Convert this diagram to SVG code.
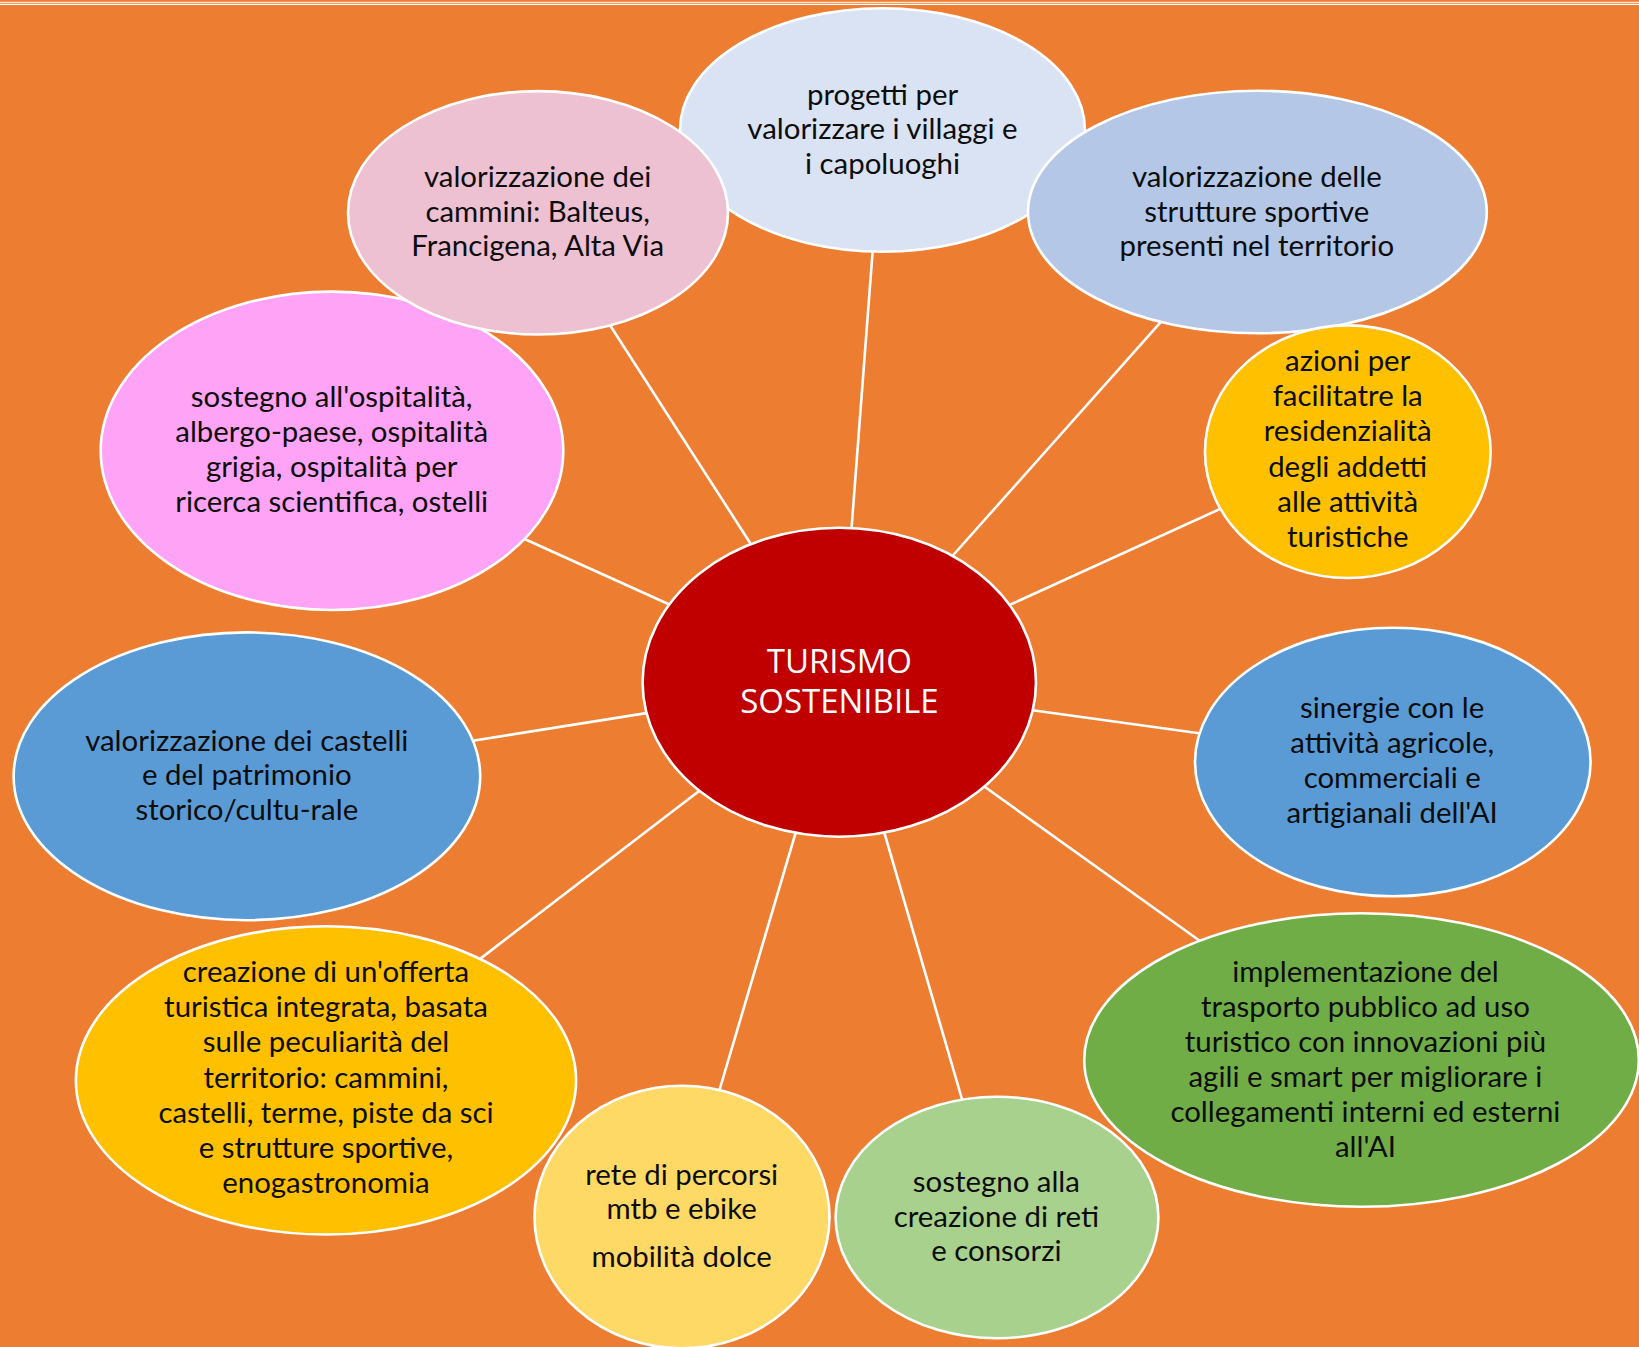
<svg xmlns="http://www.w3.org/2000/svg" width="1639" height="1347" viewBox="0 0 1639 1347">
<style>
.node{stroke:#FFFFFF;stroke-width:2.6}
.lbl{font-family:Lato,"Liberation Sans",sans-serif;font-size:29.4px;fill:#0D0D0D;text-anchor:middle}
.ctr{font-family:"Open Sans","Liberation Sans",sans-serif;font-size:33px;fill:#FFFFFF;text-anchor:middle}
#connectors line{stroke:#FFFFFF;stroke-width:2.6}
</style>
<rect x="0" y="0" width="1639" height="1347" fill="#ED7D31"/>
<line x1="0" y1="2.4" x2="1639" y2="2.4" stroke="#FBE5D6" stroke-width="1.3"/>
<line x1="0" y1="4.4" x2="1639" y2="4.4" stroke="#FFFFFF" stroke-width="1.3"/>
<g id="connectors">
<line x1="851.2" y1="532.7" x2="873" y2="246.5"/>
<line x1="753.2" y1="547.7" x2="607.3" y2="321"/>
<line x1="949.3" y1="559.5" x2="1163.6" y2="318.8"/>
<line x1="1006.2" y1="606.5" x2="1225.5" y2="506.5"/>
<line x1="1029" y1="709.7" x2="1202.6" y2="733.8"/>
<line x1="981.8" y1="784.8" x2="1202.5" y2="942.8"/>
<line x1="883.3" y1="829.2" x2="963.7" y2="1105"/>
<line x1="796.7" y1="829.2" x2="718.3" y2="1094"/>
<line x1="703" y1="788" x2="477.8" y2="960.6"/>
<line x1="651" y1="712.4" x2="468" y2="741.5"/>
<line x1="673.8" y1="606.5" x2="519.5" y2="536.8"/>
</g>
<g id="n-progetti">
<ellipse class="node" cx="882.5" cy="130" rx="202.5" ry="121.7" fill="#DAE3F3"/>
<text class="lbl" x="882.5" y="104.5">progetti per</text>
<text class="lbl" x="882.5" y="139">valorizzare i villaggi e</text>
<text class="lbl" x="882.5" y="173.5">i capoluoghi</text>
</g>
<g id="n-ospitalita">
<ellipse class="node" cx="332" cy="450.8" rx="231.3" ry="159.2" fill="#FFA3F7"/>
<text class="lbl" x="331.7" y="406.7">sostegno all'ospitalità,</text>
<text class="lbl" x="331.7" y="441.7">albergo-paese, ospitalità</text>
<text class="lbl" x="331.7" y="476.7">grigia, ospitalità per</text>
<text class="lbl" x="331.7" y="511.7">ricerca scientifica, ostelli</text>
</g>
<g id="n-cammini">
<ellipse class="node" cx="538" cy="212.8" rx="190" ry="121.7" fill="#EDC1D2"/>
<text class="lbl" x="537.7" y="187">valorizzazione dei</text>
<text class="lbl" x="537.7" y="221.5">cammini: Balteus,</text>
<text class="lbl" x="537.7" y="256">Francigena, Alta Via</text>
</g>
<g id="n-strutture">
<ellipse class="node" cx="1257.4" cy="212" rx="229.4" ry="121.3" fill="#B4C7E7"/>
<text class="lbl" x="1256.8" y="187">valorizzazione delle</text>
<text class="lbl" x="1256.8" y="221.5">strutture sportive</text>
<text class="lbl" x="1256.8" y="256">presenti nel territorio</text>
</g>
<g id="n-azioni">
<ellipse class="node" cx="1347.8" cy="451.7" rx="142.8" ry="126.3" fill="#FFC000"/>
<text class="lbl" x="1347.7" y="371">azioni per</text>
<text class="lbl" x="1347.7" y="406">facilitatre la</text>
<text class="lbl" x="1347.7" y="441">residenzialità</text>
<text class="lbl" x="1347.7" y="476.5">degli addetti</text>
<text class="lbl" x="1347.7" y="511.5">alle attività</text>
<text class="lbl" x="1347.7" y="546.5">turistiche</text>
</g>
<g id="n-center">
<ellipse class="node" cx="839.3" cy="682.2" rx="196.7" ry="154.5" fill="#C00000"/>
<text class="ctr" x="839.4" y="673.3">TURISMO<tspan x="839.4" y="713.3">SOSTENIBILE</tspan></text>
</g>
<g id="n-castelli">
<ellipse class="node" cx="246.9" cy="776.3" rx="233.3" ry="143.9" fill="#5B9BD5"/>
<text class="lbl" x="246.8" y="750.5">valorizzazione dei castelli</text>
<text class="lbl" x="246.8" y="785">e del patrimonio</text>
<text class="lbl" x="246.8" y="819.5">storico/cultu-rale</text>
</g>
<g id="n-sinergie">
<ellipse class="node" cx="1392.8" cy="762" rx="197.8" ry="134.3" fill="#5B9BD5"/>
<text class="lbl" x="1392.2" y="718">sinergie con le</text>
<text class="lbl" x="1392.2" y="753">attività agricole,</text>
<text class="lbl" x="1392.2" y="788">commerciali e</text>
<text class="lbl" x="1392.2" y="823">artigianali dell'AI</text>
</g>
<g id="n-trasporto">
<ellipse class="node" cx="1361.5" cy="1060" rx="277.3" ry="146.7" fill="#70AD47"/>
<text class="lbl" x="1365.4" y="981.7">implementazione del</text>
<text class="lbl" x="1365.4" y="1016.8">trasporto pubblico ad uso</text>
<text class="lbl" x="1365.4" y="1051.9">turistico con innovazioni più</text>
<text class="lbl" x="1365.4" y="1087">agili e smart per migliorare i</text>
<text class="lbl" x="1365.4" y="1122.2">collegamenti interni ed esterni</text>
<text class="lbl" x="1365.4" y="1157.4">all'AI</text>
</g>
<g id="n-offerta">
<ellipse class="node" cx="326" cy="1080.4" rx="250.1" ry="154.1" fill="#FFC000"/>
<text class="lbl" x="326" y="982">creazione di un'offerta</text>
<text class="lbl" x="326" y="1017">turistica integrata, basata</text>
<text class="lbl" x="326" y="1052">sulle peculiarità del</text>
<text class="lbl" x="326" y="1087.5">territorio: cammini,</text>
<text class="lbl" x="326" y="1122.5">castelli, terme, piste da sci</text>
<text class="lbl" x="326" y="1157.5">e strutture sportive,</text>
<text class="lbl" x="326" y="1192.5">enogastronomia</text>
</g>
<g id="n-mtb">
<ellipse class="node" cx="682" cy="1217" rx="147.5" ry="131.3" fill="#FFD966"/>
<text class="lbl" x="681.7" y="1185">rete di percorsi</text>
<text class="lbl" x="681.7" y="1219">mtb e ebike</text>
<text class="lbl" x="681.7" y="1267.3">mobilità dolce</text>
</g>
<g id="n-reti">
<ellipse class="node" cx="997" cy="1217.5" rx="161.4" ry="120.8" fill="#A9D18E"/>
<text class="lbl" x="996.4" y="1192">sostegno alla</text>
<text class="lbl" x="996.4" y="1226.5">creazione di reti</text>
<text class="lbl" x="996.4" y="1261">e consorzi</text>
</g>
</svg>
